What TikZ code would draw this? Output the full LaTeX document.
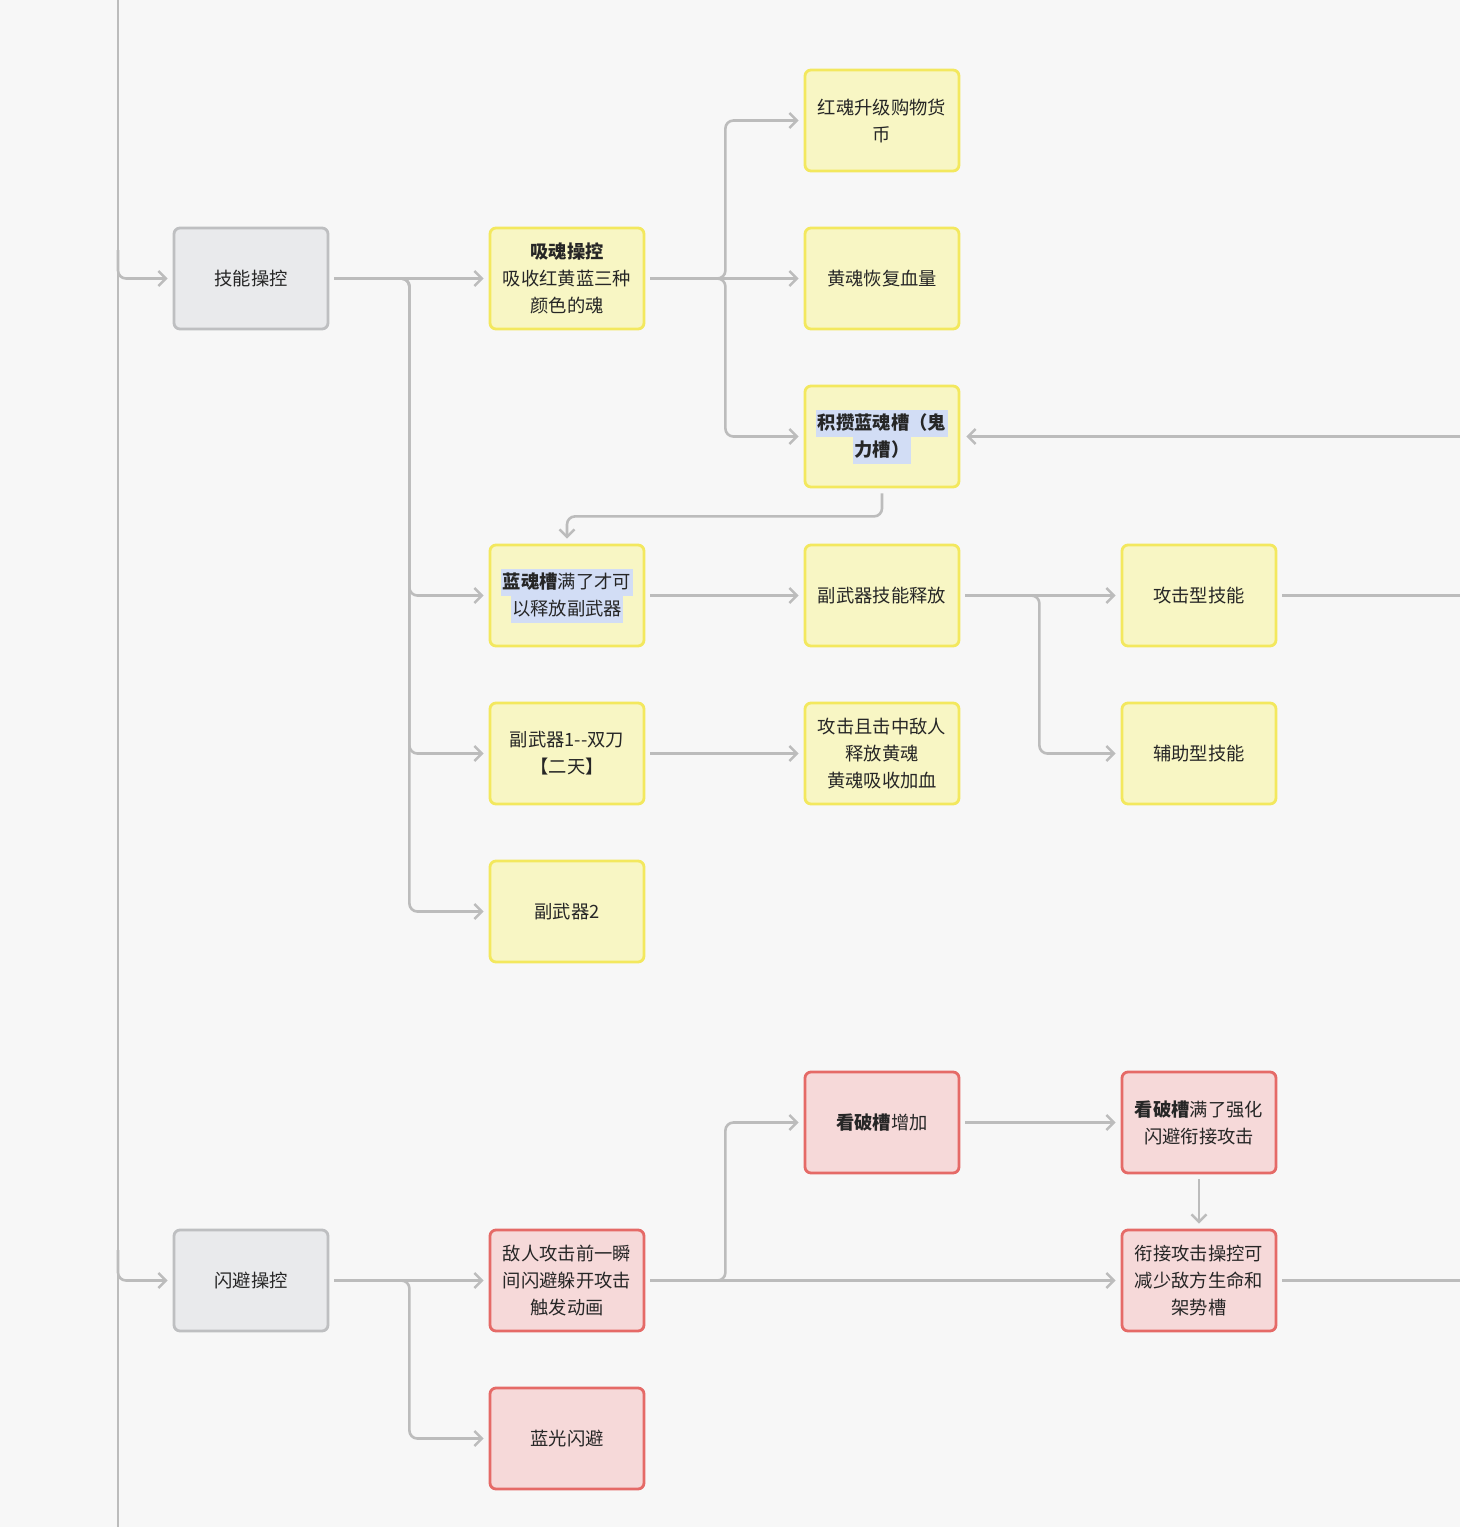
\documentclass[tikz,border=0pt]{standalone}
\usepackage{fontspec}
\setmainfont{Noto Sans CJK SC}
\usetikzlibrary{arrows.meta}
\definecolor{bg}{HTML}{F7F7F7}
\definecolor{gfill}{HTML}{E9EAEC}
\definecolor{gline}{HTML}{BEBFC1}
\definecolor{yfill}{HTML}{F8F6C4}
\definecolor{yline}{HTML}{F3E85E}
\definecolor{rfill}{HTML}{F6D9D9}
\definecolor{rline}{HTML}{E56A67}
\definecolor{conncol}{HTML}{BCBCBC}
\definecolor{txt}{HTML}{262626}
\definecolor{hlc}{HTML}{D2DDF5}
\newcommand{\hlbox}[1]{{\setlength{\fboxsep}{0pt}\colorbox{hlc}{\kern1.5pt\vrule height 19.5pt depth 7.5pt width 0pt #1\kern1.5pt}}}
\tikzset{
  box/.style={rectangle, rounded corners=6pt, line width=2.8pt, minimum width=154pt, minimum height=101pt,
    align=center, text=txt, font=\fontsize{18.3}{27}\selectfont, inner sep=0pt,
    execute at begin node={\vspace*{3pt}}},
  graybox/.style={box, draw=gline, fill=gfill},
  yelbox/.style={box, draw=yline, fill=yfill},
  redbox/.style={box, draw=rline, fill=rfill},
  conn/.style={draw=conncol, line width=2.6pt, rounded corners=8pt, -{Straight Barb[length=7.5pt,width=15pt,line width=2.4pt]}},
  plain/.style={draw=conncol, line width=2.6pt, rounded corners=8pt}
}
\begin{document}
\begin{tikzpicture}[x=1pt,y=-1pt]
\fill[bg] (0,0) rectangle (1460,1527);
\useasboundingbox (0,0) rectangle (1460,1527);
\coordinate (top) at (118,0);
\coordinate (bot) at (118,1527);
\coordinate (edge) at (1460,0);
% column 1
\node[graybox] (jn) at (251,278.5) {技能操控};
\node[graybox] (sb) at (251,1280.5) {闪避操控};
% column 2
\node[yelbox] (xh) at (567,278.5) {\textbf{吸魂操控}\\吸收红黄蓝三种\\颜色的魂};
\node[yelbox] (lh) at (567,595.5) {\hlbox{\textbf{蓝魂槽}满了才可}\\\hlbox{以释放副武器}};
\node[yelbox] (f1) at (567,753.5) {副武器1-{}-双刀\\【二天】};
\node[yelbox] (f2) at (567,911.5) {副武器2};
\node[redbox] (dr) at (567,1280.5) {敌人攻击前一瞬\\间闪避躲开攻击\\触发动画};
\node[redbox] (lg) at (567,1438.5) {蓝光闪避};
% column 3
\node[yelbox] (hh) at (882,120.5) {红魂升级购物货\\币};
\node[yelbox] (yh) at (882,278.5) {黄魂恢复血量};
\node[yelbox] (jc) at (882,436.5) {\hlbox{\textbf{积攒蓝魂槽（鬼}}\\\hlbox{\textbf{力槽）}}};
\node[yelbox] (fj) at (882,595.5) {副武器技能释放};
\node[yelbox] (gj) at (882,753.5) {攻击且击中敌人\\释放黄魂\\黄魂吸收加血};
\node[redbox] (kp) at (882,1122.5) {\textbf{看破槽}增加};
% column 4
\node[yelbox] (gx) at (1199,595.5) {攻击型技能};
\node[yelbox] (fz) at (1199,753.5) {辅助型技能};
\node[redbox] (km) at (1199,1122.5) {\textbf{看破槽}满了强化\\闪避衔接攻击};
\node[redbox] (xj) at (1199,1280.5) {衔接攻击操控可\\减少敌方生命和\\架势槽};
% left spine
\draw[plain] (top) -- (bot);
\draw[conn] (118,250) |- ([xshift=-5pt]jn.west);
\draw[conn] (118,1250) |- ([xshift=-5pt]sb.west);
% skill branch
\draw[conn] ([xshift=5pt]jn.east) -- ([xshift=-5pt]xh.west);
\draw[conn] ([xshift=5pt]jn.east) -- ++(75,0) |- ([xshift=-5pt]lh.west);
\draw[conn] ([xshift=5pt]jn.east) -- ++(75,0) |- ([xshift=-5pt]f1.west);
\draw[conn] ([xshift=5pt]jn.east) -- ++(75,0) |- ([xshift=-5pt]f2.west);
% soul branch
\draw[conn] ([xshift=5pt]xh.east) -- ([xshift=-5pt]yh.west);
\draw[conn] ([xshift=5pt]xh.east) -- ++(75,0) |- ([xshift=-5pt]hh.west);
\draw[conn] ([xshift=5pt]xh.east) -- ++(75,0) |- ([xshift=-5pt]jc.west);
% from right edge into jc
\draw[conn] (jc.east -| edge) -- ([xshift=6pt]jc.east);
% jc to lh
\draw[conn] ([yshift=-5pt]jc.south) -- ++(0,23) -| ([yshift=5pt]lh.north);
% lh -> fj
\draw[conn] ([xshift=5pt]lh.east) -- ([xshift=-5pt]fj.west);
\draw[conn] ([xshift=5pt]fj.east) -- ([xshift=-5pt]gx.west);
\draw[conn] ([xshift=5pt]fj.east) -- ++(74,0) |- ([xshift=-5pt]fz.west);
\draw[plain] ([xshift=5pt]gx.east) -- (gx.east -| edge);
% f1 -> gj
\draw[conn] ([xshift=5pt]f1.east) -- ([xshift=-5pt]gj.west);
% dodge branch
\draw[conn] ([xshift=5pt]sb.east) -- ([xshift=-5pt]dr.west);
\draw[conn] ([xshift=5pt]sb.east) -- ++(75,0) |- ([xshift=-5pt]lg.west);
\draw[conn] ([xshift=5pt]dr.east) -- ([xshift=-5pt]xj.west);
\draw[conn] ([xshift=5pt]dr.east) -- ++(75,0) |- ([xshift=-5pt]kp.west);
\draw[conn] ([xshift=5pt]kp.east) -- ([xshift=-5pt]km.west);
\draw[conn] ([yshift=-5pt]km.south) -- ([yshift=5pt]xj.north);
\draw[plain] ([xshift=5pt]xj.east) -- (xj.east -| edge);
\end{tikzpicture}
\end{document}
